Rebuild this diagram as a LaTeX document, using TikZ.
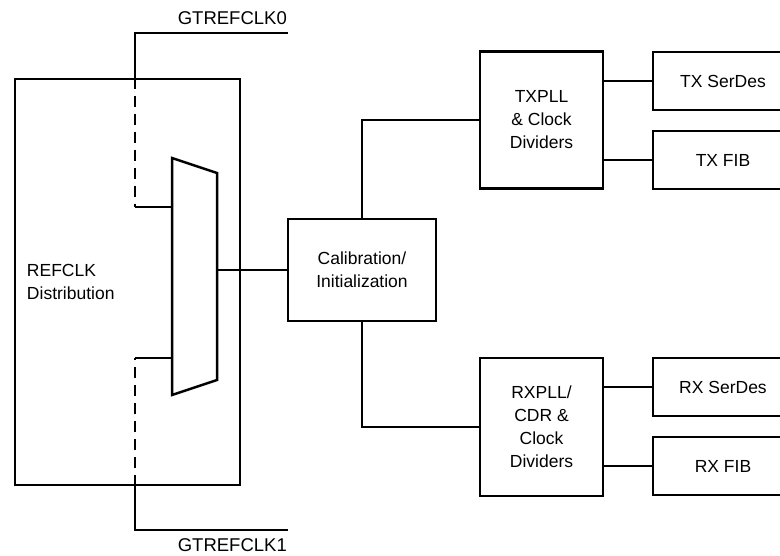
\documentclass[tikz,border=0pt]{standalone}
\usepackage{fontspec}
\setmainfont{Liberation Sans}
\begin{document}
\begin{tikzpicture}[x=1pt,y=-1pt,
  box/.style={draw, line width=2.5pt, inner sep=0pt, align=center, font=\fontsize{17.5}{23}\selectfont},
  wire/.style={line width=2.5pt},
  dashwire/.style={line width=2.5pt, dash pattern=on 11pt off 7pt},
  lbl/.style={font=\fontsize{18.5}{23}\selectfont, inner sep=0pt}]
\clip (0,0) rectangle (780,556);
% REFCLK distribution box
\node[box, minimum width=225pt, minimum height=406pt, text width=201pt, align=left] (ref) at (127.5,282) {REFCLK\\Distribution};
% mux
\coordinate (m1) at (172,158);
\coordinate (m2) at (217,173);
\coordinate (m3) at (217,380);
\coordinate (m4) at (172,395);
\draw[wire, line join=miter] (m1) -- (m2) -- (m3) -- (m4) -- cycle;
\coordinate (min0) at (172,207);
\coordinate (min1) at (172,358);
\coordinate (mout) at (217,270);
% GTREFCLK0
\coordinate (c0end) at (288,33);
\coordinate (c0turn) at (135,33);
\draw[wire] (c0end) -- (c0turn) -- (c0turn |- ref.north);
\draw[dashwire] (c0turn |- ref.north) -- (c0turn |- min0);
\draw[wire] (c0turn |- min0) -- (min0);
\node[lbl, anchor=base east] (l0) at (287,25) {GTREFCLK0};
% GTREFCLK1
\coordinate (c1end) at (288,530);
\coordinate (c1turn) at (135,530);
\draw[wire] (c1end) -- (c1turn) -- (c1turn |- ref.south);
\draw[dashwire] (c1turn |- ref.south) -- (c1turn |- min1);
\draw[wire] (c1turn |- min1) -- (min1);
\node[lbl, anchor=base east] (l1) at (287,551) {GTREFCLK1};
% Calibration
\node[box, minimum width=148pt, minimum height=102pt] (cal) at (362,270) {Calibration/\\Initialization};
\draw[wire] (mout) -- (cal.west);
% PLLs
\node[box, minimum width=123pt, minimum height=137pt] (txpll) at (541.5,120) {TXPLL\\\& Clock\\Dividers};
\node[box, minimum width=123pt, minimum height=138pt] (rxpll) at (541.5,427) {RXPLL/\\CDR \&\\Clock\\Dividers};
\draw[wire] (cal.north) -- (cal.north |- txpll.west) -- (txpll.west);
\draw[wire] (cal.south) -- (cal.south |- rxpll.west) -- (rxpll.west);
% right boxes
\node[box, minimum width=140pt, minimum height=58pt] (txs) at (723,81) {TX SerDes};
\node[box, minimum width=140pt, minimum height=58pt] (txf) at (723,160) {TX FIB};
\node[box, minimum width=140pt, minimum height=58pt] (rxs) at (723,387) {RX SerDes};
\node[box, minimum width=140pt, minimum height=58pt] (rxf) at (723,466) {RX FIB};
\draw[wire] (txs.west) -- (txs.west -| txpll.east);
\draw[wire] (txf.west) -- (txf.west -| txpll.east);
\draw[wire] (rxs.west) -- (rxs.west -| rxpll.east);
\draw[wire] (rxf.west) -- (rxf.west -| rxpll.east);
\end{tikzpicture}
\end{document}
